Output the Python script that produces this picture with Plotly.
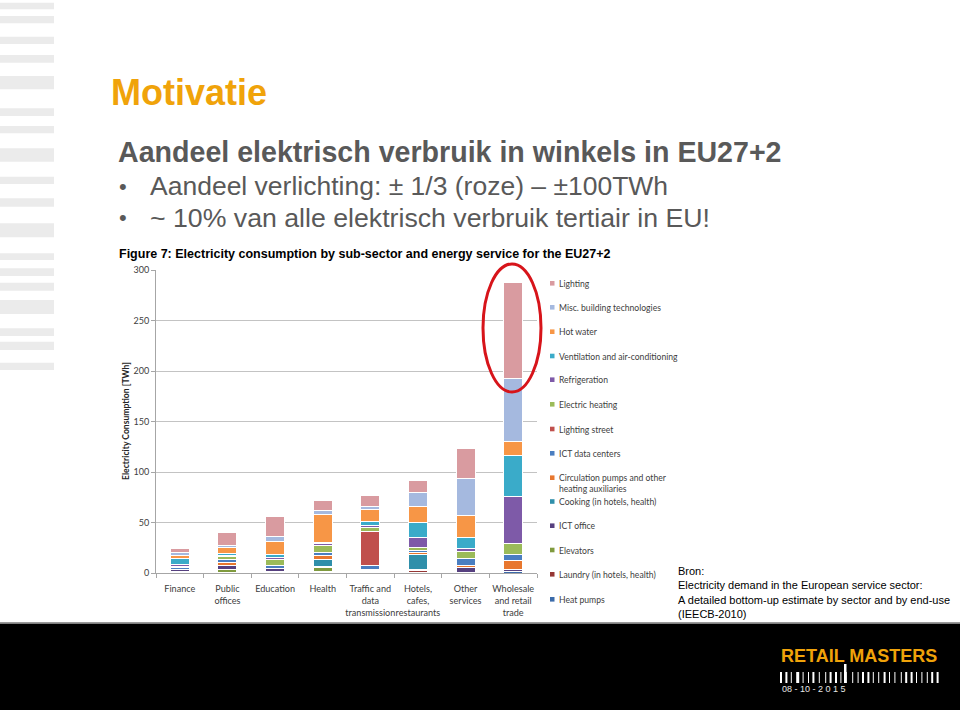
import plotly.graph_objects as go

# ---------------- data ----------------
categories = ["Finance", "Public<br>offices", "Education", "Health",
              "Traffic and<br>data<br>transmission", "Hotels,<br>cafes,<br>restaurants",
              "Other<br>services", "Wholesale<br>and retail<br>trade"]

# stacked bottom -> top
heat_pumps    = [0.3, 0.3, 0.5, 0.5, 0.5, 0.5, 0.5, 1.5]
laundry       = [0.0, 0.0, 0.5, 0.8, 0.0, 1.5, 0.0, 0.0]
elevators     = [0.7, 3.0, 0.5, 4.2, 0.7, 0.5, 0.0, 0.0]
ict_office    = [2.0, 4.6, 2.5, 1.0, 1.5, 0.5, 4.5, 1.5]
cooking       = [0.0, 0.0, 0.0, 7.2, 0.0, 15.0, 0.0, 0.0]
circulation   = [0.5, 2.2, 0.6, 3.6, 0.5, 2.0, 2.5, 9.0]
ict_dc        = [1.5, 3.0, 2.6, 3.2, 4.1, 2.5, 6.5, 6.5]
street        = [0.0, 0.0, 0.0, 0.0, 34.0, 0.0, 0.0, 0.0]
elec_heating  = [1.5, 3.0, 5.8, 6.8, 3.3, 3.0, 7.5, 10.8]
refrigeration = [1.5, 1.0, 2.5, 1.6, 2.5, 9.5, 2.5, 46.5]
ventilation   = [6.0, 2.5, 3.0, 1.6, 4.0, 15.0, 11.5, 41.0]
hot_water     = [3.0, 5.5, 13.0, 27.5, 12.0, 15.5, 21.0, 13.2]
misc_building = [3.0, 2.0, 4.6, 4.3, 3.0, 14.0, 37.5, 62.7]
lighting      = [4.3, 13.0, 19.5, 9.2, 10.5, 12.5, 29.5, 94.7]

series_names = ["Heat pumps", "Laundry (in hotels, health)", "Elevators", "ICT office",
                "Cooking (in hotels, health)", "Circulation pumps and other<br>heating auxiliaries",
                "ICT data centers", "Lighting street", "Electric heating", "Refrigeration",
                "Ventilation and air-conditioning", "Hot water", "Misc. building technologies",
                "Lighting"]
series_values = [heat_pumps, laundry, elevators, ict_office, cooking, circulation, ict_dc,
                 street, elec_heating, refrigeration, ventilation, hot_water, misc_building,
                 lighting]
series_colors = ["#3B6BAA", "#953735", "#7F9A3E", "#56407F", "#2F8FAA", "#E8772E",
                 "#4A7EC0", "#C0504D", "#9BBB59", "#7E5AA8", "#3AABC9", "#F79646",
                 "#A5B9DF", "#D99BA0"]

y_ticks = [0, 50, 100, 150, 200, 250, 300]

# ---------------- layout geometry (pixels) ----------------
L, R, T, B = 156, 537, 270, 573
W, H = R - L, B - T


def px(x):
    return (x - L) / W


def py(y):
    return (B - y) / H


fig = go.Figure()
for name, vals, col in zip(series_names, series_values, series_colors):
    fig.add_trace(go.Bar(x=categories, y=[v if v > 0 else None for v in vals], name=name,
                         marker=dict(color=col, line=dict(color="white", width=1)),
                         showlegend=False))

ARIAL = "Liberation Sans, Arial, sans-serif"
CAL = "Lato, Carlito, Calibri, sans-serif"

shapes = []
annotations = []

# left decorative stripes
stripes = [(2.7, 9.3), (16, 23.3), (36.7, 44), (55, 62.7), (76, 89.3), (108.3, 116),
           (126, 133.3), (148.3, 161.7), (176.7, 184), (198.3, 206.7), (223.3, 237.3),
           (253.3, 260), (268.3, 276), (282.7, 290.7), (300, 314), (328.3, 336),
           (341.7, 350), (362.7, 370)]
for y0, y1 in stripes:
    shapes.append(dict(type="rect", xref="paper", yref="paper", x0=px(0), x1=px(54),
                       y0=py(y1), y1=py(y0), fillcolor="#EBEBEB", line=dict(width=0),
                       layer="below"))

# footer
shapes.append(dict(type="rect", xref="paper", yref="paper", x0=px(0), x1=px(960),
                   y0=py(712), y1=py(623.5), fillcolor="#000000", line=dict(width=0)))
shapes.append(dict(type="line", xref="paper", yref="paper", x0=px(0), x1=px(960),
                   y0=py(622.5), y1=py(622.5), line=dict(color="#9A9A9A", width=1)))

# barcode in logo
bar_pattern = [2, 1, 2, 1, 1, 2, 3, 1, 1, 2, 1, 1, 2, 2, 1, 3, 1, 1, 2, 1, 2, 1, 1, 2, 1, 3,
               1, 2, 1, 1, 2, 1, 2, 1, 1, 2, 1, 2, 2, 1, 1, 2, 1, 3, 1, 1, 2, 1, 2, 1, 1, 2,
               1, 2, 1, 1, 2, 1, 2, 1, 1, 2, 1, 2, 2, 1, 1, 2, 1, 3]
xx = 780
for i, wdt in enumerate(bar_pattern):
    if xx > 937:
        break
    if i % 2 == 0:
        shapes.append(dict(type="rect", xref="paper", yref="paper", x0=px(xx), x1=px(xx + wdt),
                           y0=py(683), y1=py(672), fillcolor="white", line=dict(width=0)))
    xx += wdt + 1.2
shapes.append(dict(type="rect", xref="paper", yref="paper", x0=px(844), x1=px(846.5),
                   y0=py(683), y1=py(664), fillcolor="white", line=dict(width=0)))

# red ellipse
shapes.append(dict(type="circle", xref="paper", yref="paper", x0=px(483), x1=px(541),
                   y0=py(392), y1=py(264), line=dict(color="#D7141A", width=3)))

# manual legend (top -> bottom)
leg_y = [283.3, 307.3, 331.7, 356, 379.7, 404.3, 429, 453.3, 477.7, 501.5, 525.7, 550,
         574.3, 599.3]
for i, idx in enumerate(range(len(series_names) - 1, -1, -1)):
    yc = leg_y[i]
    shapes.append(dict(type="rect", xref="paper", yref="paper", x0=px(550), x1=px(554.5),
                       y0=py(yc + 2.3), y1=py(yc - 2.3), fillcolor=series_colors[idx],
                       line=dict(width=0)))
    annotations.append(dict(xref="paper", yref="paper", x=px(557), y=py(yc - 6.5),
                            xanchor="left", yanchor="top", text=series_names[idx],
                            showarrow=False, align="left",
                            font=dict(family=CAL, size=8.6, color="#404040")))


# texts
def txt(x, y, s, size, color="#000", family=ARIAL, anchor="left", yanchor="middle", **kw):
    annotations.append(dict(xref="paper", yref="paper", x=px(x), y=py(y), text=s,
                            showarrow=False, xanchor=anchor, yanchor=yanchor,
                            font=dict(family=family, size=size, color=color), **kw))


txt(109, 92, "<b>Motivatie</b>", 36, "#F0A30A")
txt(116, 152, "<b>Aandeel elektrisch verbruik in winkels in EU27+2</b>", 28.6, "#595959")
txt(117, 186, "•", 22, "#595959")
txt(148, 186, "Aandeel verlichting: ± 1/3 (roze) – ±100TWh", 26.5, "#595959")
txt(117, 218, "•", 22, "#595959")
txt(148, 218, "~ 10% van alle elektrisch verbruik tertiair in EU!", 26.7, "#595959")
txt(117, 254, "<b>Figure 7: Electricity consumption by sub-sector and energy service for the EU27+2</b>",
    12.5, "#000")
annotations.append(dict(xref="paper", yref="paper", x=px(126), y=py(421),
                        text="<b>Electricity Consumption [TWh]</b>", textangle=-90,
                        showarrow=False, xanchor="center", yanchor="middle",
                        font=dict(family=CAL, size=8.6, color="#262626")))
txt(676, 592, "Bron:<br>Electricity demand in the European service sector:<br>"
    "A detailed bottom-up estimate by sector and by end-use<br>(IEECB-2010)",
    11, "#000", align="left")

# logo text
txt(779, 656, "<b>RETAIL MASTERS</b>", 18, "#F0A30A")
txt(780, 689, "08 - 10 - 2 0 1 5", 9, "#E6E6E6")

fig.update_layout(
    width=960, height=710,
    margin=dict(l=L, r=960 - R, t=T, b=710 - B, pad=0),
    paper_bgcolor="white", plot_bgcolor="white",
    barmode="stack", bargap=0.6,
    shapes=shapes, annotations=annotations,
    font=dict(family=CAL, size=9, color="#595959"),
    xaxis=dict(showline=True, linecolor="#A6A6A6", linewidth=1, ticks="outside",
               tickson="boundaries", ticklen=4, tickcolor="#A6A6A6", tickangle=0,
               ticklabelstandoff=7,
               tickfont=dict(family=CAL, size=9.1, color="#404040"), fixedrange=True),
    yaxis=dict(range=[0, 300], tickvals=y_ticks, showgrid=True, gridcolor="#C3C3C3",
               gridwidth=1.3, showline=True, linecolor="#A6A6A6", ticks="outside", ticklen=4,
               tickcolor="#A6A6A6", tickfont=dict(family=CAL, size=9, color="#404040"),
               zeroline=False, fixedrange=True),
)

fig.write_html("out.html")
